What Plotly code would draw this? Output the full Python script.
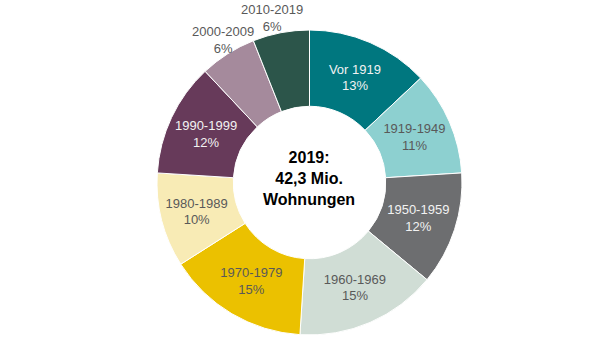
import plotly.graph_objects as go

labels = ["Vor 1919", "1919-1949", "1950-1959", "1960-1969", "1970-1979",
          "1980-1989", "1990-1999", "2000-2009", "2010-2019"]
values = [13, 11, 12, 15, 15, 10, 12, 6, 6]
colors = ["#00777F", "#8DD0D0", "#6D6E70", "#D0DDD5", "#EBC100",
          "#F8EBB5", "#673A5A", "#A58A9C", "#2C554A"]
text_colors = ["#F2F2F2", "#595959", "#F2F2F2", "#595959", "#595959",
               "#595959", "#F2F2F2", "#595959", "#595959"]
positions = ["inside"] * 7 + ["none", "none"]
center_text = "2019:<br>42,3 Mio.<br>Wohnungen"

FONT = "Liberation Sans, Arial"

fig = go.Figure(go.Pie(
    labels=labels,
    values=values,
    sort=False,
    direction="clockwise",
    rotation=0,
    hole=0.5,
    marker=dict(colors=colors, line=dict(color="white", width=1)),
    texttemplate="%{label}<br>%{value}%",
    textposition=positions,
    insidetextorientation="horizontal",
    textfont=dict(family=FONT, size=13, color=text_colors),
    showlegend=False,
    domain=dict(x=[0.2617, 0.77], y=[0.0318, 0.9133]),
))

# outside labels for the two small slices
outside_pos = {"2000-2009": (0.3717, 0.883), "2010-2019": (0.4533, 0.948)}
for lab, val in zip(labels, values):
    if lab in outside_pos:
        px, py = outside_pos[lab]
        fig.add_annotation(
            text=f"{lab}<br>{val}%", x=px, y=py, xref="paper", yref="paper",
            xanchor="center", yanchor="middle",
            showarrow=False, align="center",
            font=dict(family=FONT, size=13, color="#595959"),
        )

fig.add_annotation(
    text="<b>" + center_text + "</b>",
    x=0.5158, y=0.4855, xref="paper", yref="paper",
    xanchor="center", yanchor="middle",
    showarrow=False,
    font=dict(family=FONT, size=16, color="#000000"),
    align="center",
)

fig.update_layout(
    width=600, height=346,
    margin=dict(l=0, r=0, t=0, b=0),
    paper_bgcolor="white",
    plot_bgcolor="white",
)

fig.write_html("out.html")
